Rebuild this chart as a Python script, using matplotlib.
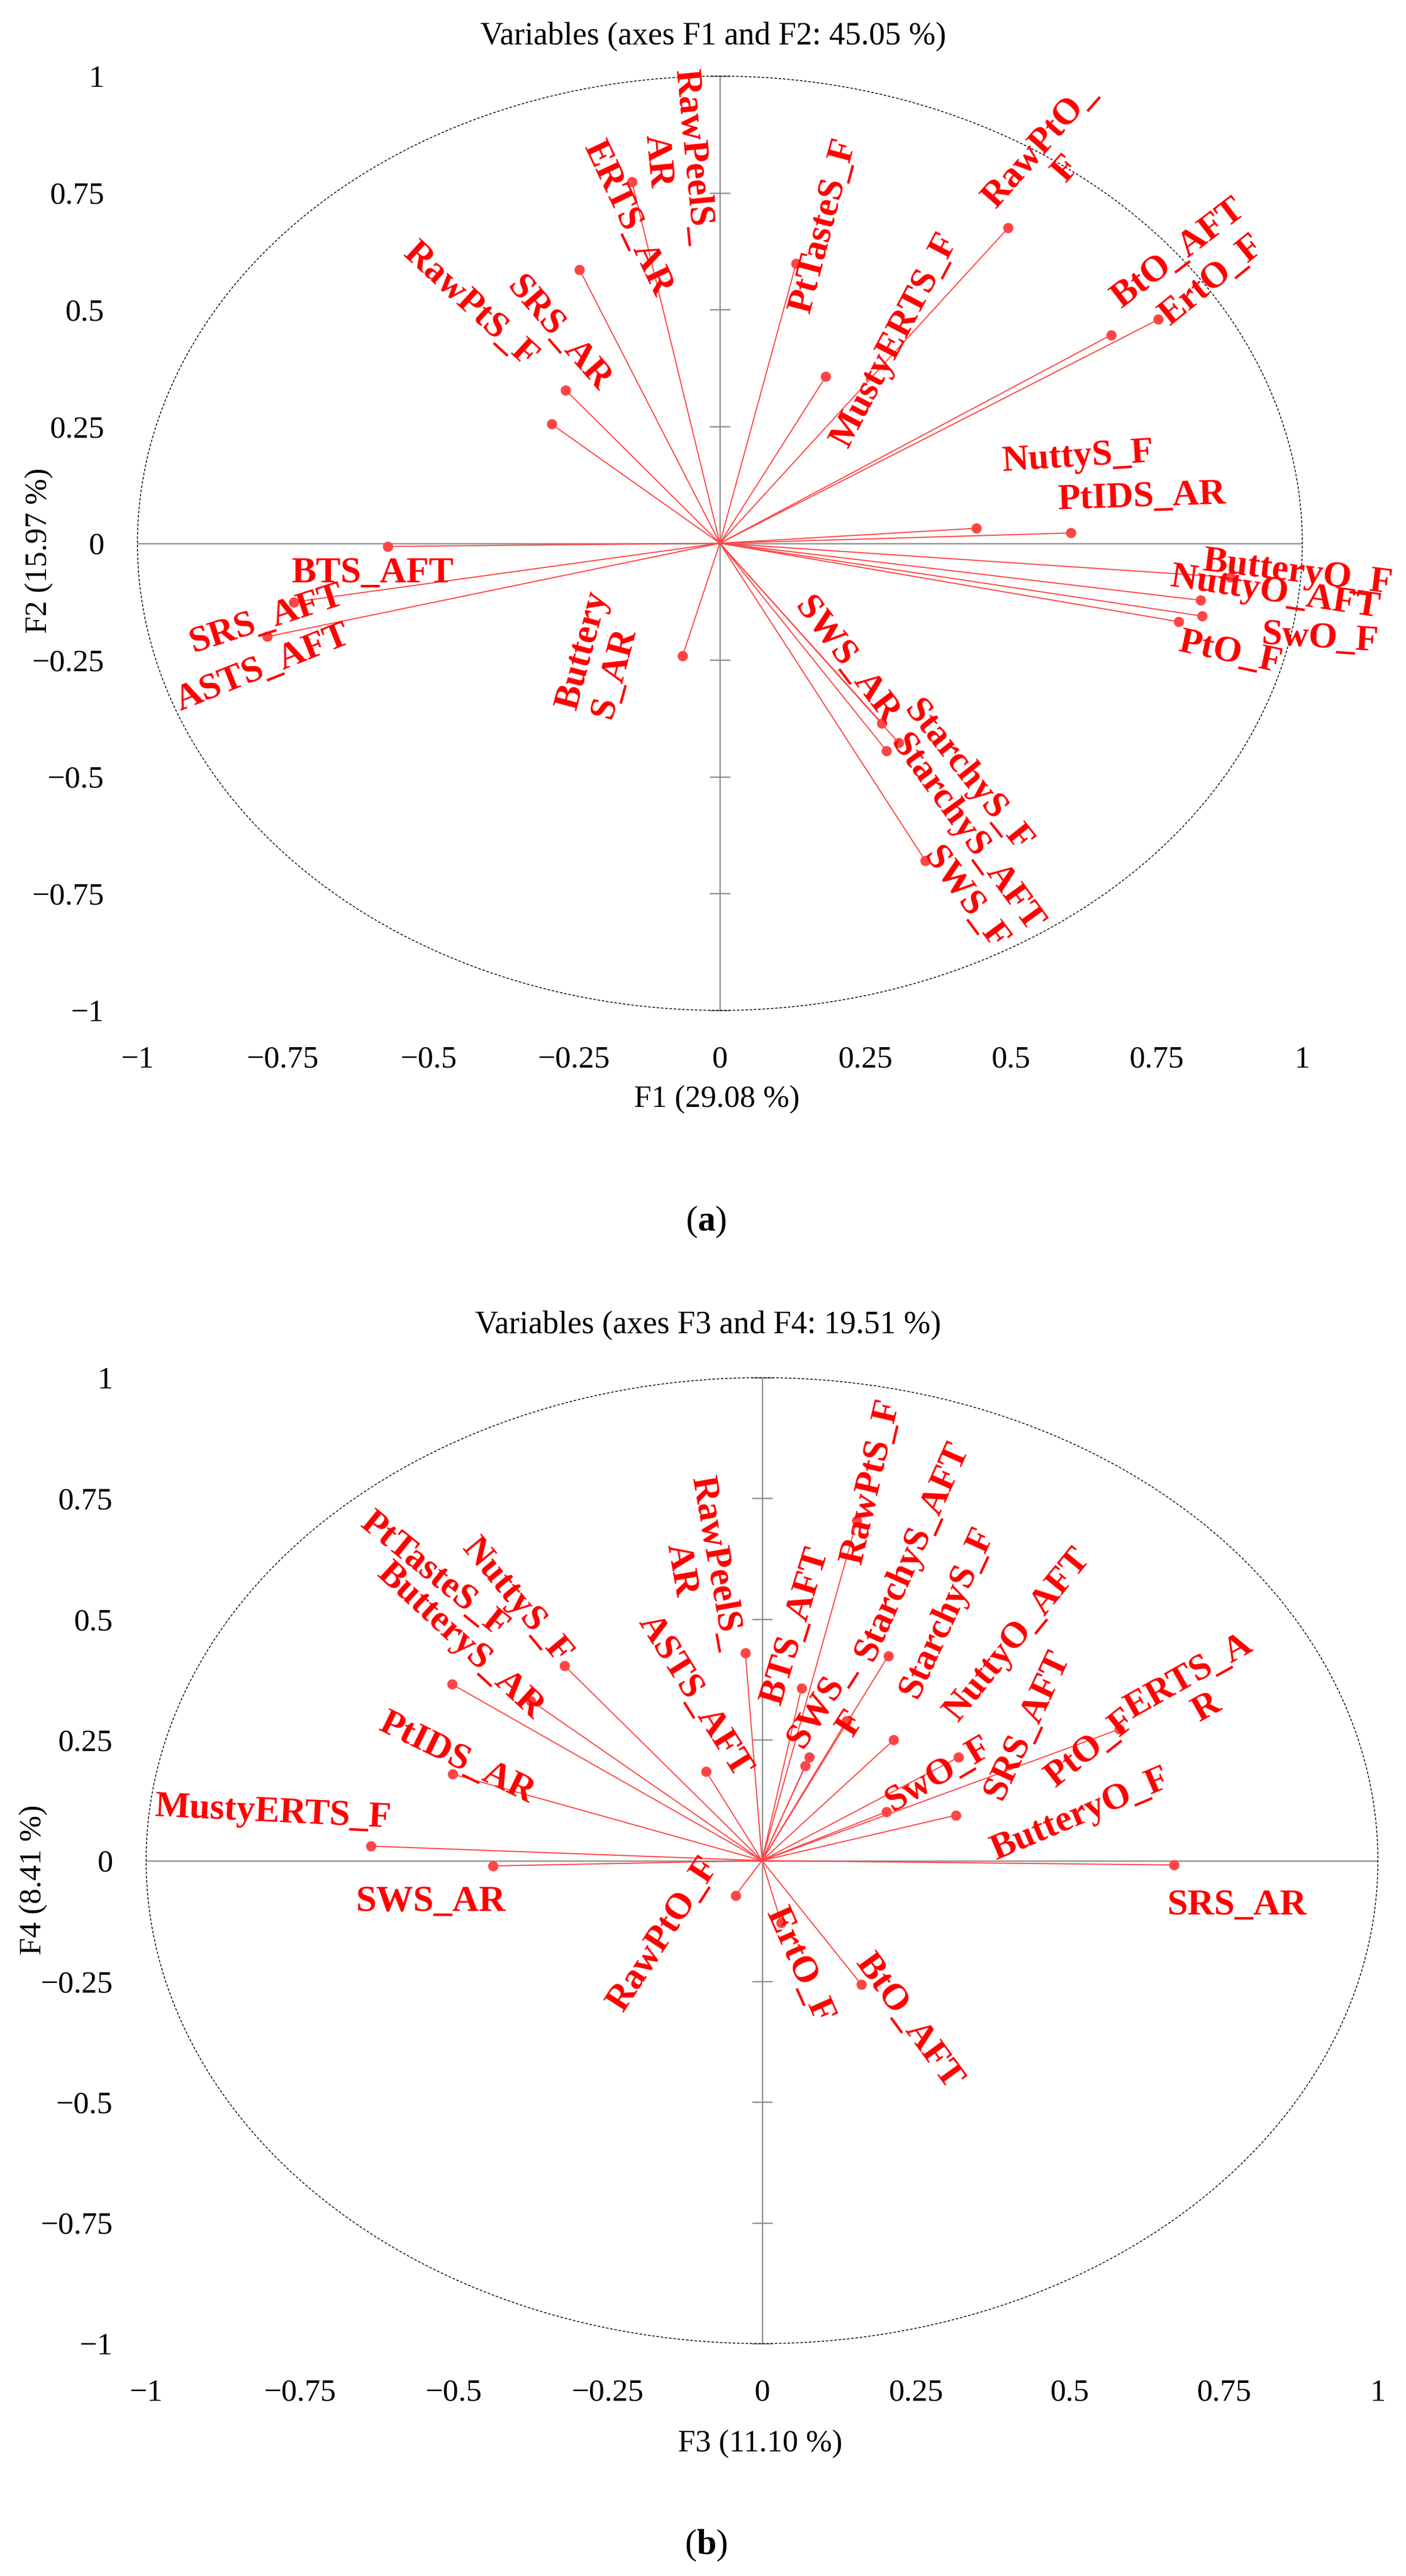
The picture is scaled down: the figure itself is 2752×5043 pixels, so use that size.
import matplotlib
matplotlib.use("Agg")
import matplotlib.pyplot as plt
from matplotlib.patches import Circle

plt.rcParams['font.family'] = ['Liberation Serif', 'DejaVu Serif']
plt.rcParams['mathtext.fontset'] = 'custom'
plt.rcParams['mathtext.rm'] = 'Liberation Serif'
plt.rcParams['mathtext.bf'] = 'Liberation Serif:bold'

W, H, DPI = 2752, 5043, 200

# ---------------- data: panel (a) F1 vs F2 ----------------
a_names = ['RawPeelS_AR', 'ERTS_AR', 'SRS_AR', 'RawPtS_F', 'BTS_AFT', 'SRS_AFT',
           'ASTS_AFT', 'ButteryS_AR', 'PtTasteS_F', 'MustyERTS_F', 'RawPtO_F',
           'BtO_AFT', 'ErtO_F', 'NuttyS_F', 'PtIDS_AR', 'ButteryO_F', 'NuttyO_AFT',
           'SwO_F', 'PtO_F', 'SWS_AR', 'StarchyS_F', 'StarchyS_AFT', 'SWS_F']
a_f1 = [-0.151, -0.241, -0.265, -0.289, -0.570, -0.732, -0.777, -0.064, 0.131,
        0.182, 0.495, 0.672, 0.753, 0.440, 0.603, 0.876, 0.825, 0.828, 0.788,
        0.278, 0.307, 0.286, 0.353]
a_f2 = [0.774, 0.586, 0.328, 0.255, -0.007, -0.126, -0.200, -0.241, 0.599,
        0.357, 0.675, 0.446, 0.479, 0.032, 0.022, -0.073, -0.122, -0.156, -0.168,
        -0.385, -0.427, -0.444, -0.680]
a_text = ['RawPeelS_\nAR', 'ERTS_AR', 'SRS_AR', 'RawPtS_F', 'BTS_AFT', 'SRS_AFT',
          'ASTS_AFT', 'Buttery\nS_AR', 'PtTasteS_F', 'MustyERTS_F', 'RawPtO_\nF',
          'BtO_AFT', 'ErtO_F', 'NuttyS_F', 'PtIDS_AR', 'ButteryO_F', 'NuttyO_AFT',
          'SwO_F', 'PtO_F', 'SWS_AR', 'StarchyS_F', 'StarchyS_AFT', 'SWS_F']

# ---------------- data: panel (b) F3 vs F4 ----------------
b_names = ['MustyERTS_F', 'SWS_AR', 'PtIDS_AR', 'ButteryS_AR', 'PtTasteS_F',
           'NuttyS_F', 'RawPeelS_AR', 'ASTS_AFT', 'BTS_AFT', 'SWS_F', 'RawPtS_F',
           'StarchyS_AFT', 'StarchyS_F', 'NuttyO_AFT', 'SRS_AFT', 'ERTS_AR', 'PtO_F',
           'SwO_F', 'ButteryO_F', 'SRS_AR', 'RawPtO_F', 'ErtO_F', 'BtO_AFT']
b_f3 = [-0.635, -0.437, -0.502, -0.503, -0.375, -0.321, -0.027, -0.091, 0.064,
        0.137, 0.154, 0.205, 0.214, 0.319, 0.077, 0.580, 0.070, 0.202, 0.315,
        0.669, -0.043, 0.031, 0.161]
b_f4 = [0.030, -0.011, 0.179, 0.365, 0.331, 0.404, 0.430, 0.185, 0.357, 0.289,
        0.704, 0.424, 0.250, 0.214, 0.214, 0.272, 0.196, 0.101, 0.094, -0.009,
        -0.072, -0.128, -0.256]
b_text = ['MustyERTS_F', 'SWS_AR', 'PtIDS_AR', 'ButteryS_AR', 'PtTasteS_F',
          'NuttyS_F', 'RawPeelS_\nAR', 'ASTS_AFT', 'BTS_AFT', 'SWS_\nF', 'RawPtS_F',
          'StarchyS_AFT', 'StarchyS_F', 'NuttyO_AFT', 'SRS_AFT', 'ERTS_A\nR', 'PtO_F',
          'SwO_F', 'ButteryO_F', 'SRS_AR', 'RawPtO_F', 'ErtO_F', 'BtO_AFT']

ticks = [-1, -0.75, -0.5, -0.25, 0, 0.25, 0.5, 0.75, 1]
tick_text = ['\u22121', '\u22120.75', '\u22120.5', '\u22120.25', '0', '0.25', '0.5', '0.75', '1']

# ---------------- label layout (pixel offsets, rotation) ----------------
a_off = [(85, 44), (94, 100), (-13, 110), (-159, 233), (-30, -53), (-53, -34),
         (-9, -62), (-161, 2), (54, 74), (135, 71), (88, 138), (132, 159),
         (105, 77), (199, 139), (139, 70), (132, 9), (146, 15), (230, -44),
         (101, -61), (-69, 123), (135, -66), (157, -162), (78, -74)]
a_rot = [-84.5, -64.7, -49, -42.4, 0, 18, 21.8, 75, 75.2, 62.3, 48.7, 37.4, 39,
         3.6, 2, -7, -8.5, -3.7, -12, -52.7, -51.4, -54, -53.4]
a_malign = ['center'] * 23
a_malign[7] = 'left'

b_off = [(-191, 65), (-122, -71), (8, 31), (16, 85), (-189, 246), (-93, 126),
         (-92, 169), (-22, 148), (-12, 122), (-20, 14), (28, 76), (47, 204),
         (104, 249), (115, 239), (426, 63), (154, 73), (559, 34), (102, 73),
         (244, 1), (123, -79), (-141, -76), (36, -84), (93, -73)]
b_rot = [-2.8, 0, -26, -42.7, -39, -50.3, -80, -58, 73, 57.4, 77, 66, 65.4, 51,
         65, 29.3, 38.4, 30.6, 23, 0, 57, -66, -54]
b_malign = ['center'] * 23

RED = '#FF0000'
VEC = '#FF4545'
GREY = '#8a8a8a'

fig = plt.figure(figsize=(W / DPI, H / DPI), dpi=DPI)


def frac(px, py):
    return px / W, 1 - py / H


def panel(box, xs, ys, texts, offs, rots, maligns, title, tpos, xlab, xpos, ylab, ypos):
    l, t, r, b = box
    ax = fig.add_axes([l / W, 1 - b / H, (r - l) / W, (b - t) / H])
    ax.set_xlim(-1, 1)
    ax.set_ylim(-1, 1)
    for s in ax.spines.values():
        s.set_visible(False)
    ax.set_xticks(ticks)
    ax.set_xticklabels(tick_text)
    ax.set_yticks(ticks)
    ax.set_yticklabels(tick_text)
    ax.tick_params(axis='x', length=0, pad=25, labelsize=22)
    ax.tick_params(axis='y', length=0, pad=23.4, labelsize=22)

    # axis lines through the origin
    ax.axhline(0, color=GREY, lw=0.9, zorder=1)
    ax.axvline(0, color=GREY, lw=0.9, zorder=1)
    # tick marks on the vertical axis
    sec = ax.secondary_yaxis(0.5)
    sec.set_yticks(ticks)
    sec.set_yticklabels([])
    for s in sec.spines.values():
        s.set_visible(False)
    sec.tick_params(axis='y', direction='inout', length=14.5, width=0.9, color=GREY)

    circ = Circle((0, 0), 1, fill=False, ec='black', lw=0.6,
                  ls=(0, (3, 2)), clip_on=False, zorder=2)
    ax.add_patch(circ)

    for x, y in zip(xs, ys):
        ax.plot([0, x], [0, y], color=VEC, lw=0.8, zorder=3, solid_capstyle='butt')
    ax.scatter(xs, ys, s=52, color=VEC, zorder=4, linewidths=0)

    for x, y, txt, (dx, dy), rot, ma in zip(xs, ys, texts, offs, rots, maligns):
        ax.annotate(txt, xy=(x, y), xytext=(dx, dy), textcoords='offset pixels',
                    rotation=rot, rotation_mode='anchor', ha='center', va='center',
                    multialignment=ma, color=RED, fontsize=26, fontweight='bold',
                    linespacing=1.1, zorder=5, annotation_clip=False)

    fx, fy = frac(*tpos)
    fig.text(fx, fy, title, ha='center', va='center', fontsize=22.5)
    fx, fy = frac(*xpos)
    fig.text(fx, fy, xlab, ha='center', va='center', fontsize=22)
    fx, fy = frac(*ypos)
    fig.text(fx, fy, ylab, ha='center', va='center', fontsize=22, rotation=90)
    return ax


panel((269, 149, 2549, 1978), a_f1, a_f2, a_text, a_off, a_rot, a_malign,
      'Variables (axes F1 and F2: 45.05 %)', (1396, 72),
      'F1 (29.08 %)', (1403, 2152), 'F2 (15.97 %)', (76, 1078))
panel((286, 2697, 2697, 4588), b_f3, b_f4, b_text, b_off, b_rot, b_malign,
      'Variables (axes F3 and F4: 19.51 %)', (1386, 2595),
      'F3 (11.10 %)', (1488, 4784), 'F4 (8.41 %)', (65, 3680))

fx, fy = frac(1382, 2392)
fig.text(fx, fy, r'($\mathbf{a}$)', ha='center', va='center', fontsize=25)
fx, fy = frac(1382, 4983)
fig.text(fx, fy, r'($\mathbf{b}$)', ha='center', va='center', fontsize=25)

fig.savefig('out.png', dpi=DPI, facecolor='white')
